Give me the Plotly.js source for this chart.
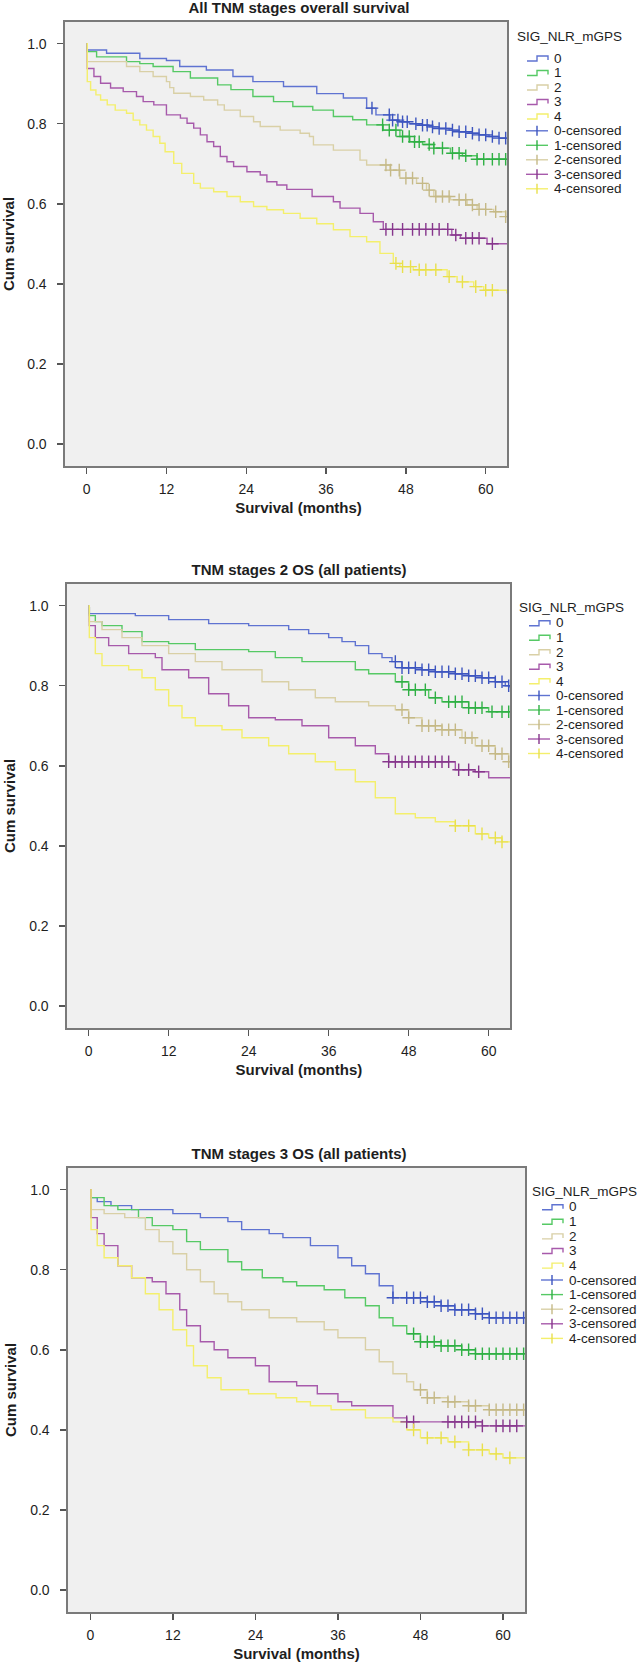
<!DOCTYPE html>
<html><head><meta charset="utf-8">
<script src="https://cdn.plot.ly/plotly-3.0.1.min.js"></script>
<style>
body{margin:0;background:#fff;width:642px;height:1673px;position:relative;overflow:hidden}
.p{position:absolute;left:0;width:642px}
</style></head><body>
<div id="p1" class="p" style="top:0px;height:540px"></div>
<div id="p2" class="p" style="top:562px;height:540px"></div>
<div id="p3" class="p" style="top:1146px;height:527px"></div>
<script>
// ---------- labels ----------
const groupNames = ['0','1','2','3','4'];
const censoredNames = ['0-censored','1-censored','2-censored','3-censored','4-censored'];
const legendTitle = 'SIG_NLR_mGPS';
const panelTitles = ['All TNM stages overall survival','TNM stages 2 OS (all patients)','TNM stages 3 OS (all patients)'];
const xTitle = 'Survival (months)';
const yTitle = 'Cum survival';
const xTickVals = [0,12,24,36,48,60];
const yTickVals = [0,0.2,0.4,0.6,0.8,1.0];

// ---------- Panel 1: All TNM stages ----------
const p1_t0 = [0,0.1,3,8,12,14,18,22,25,29.6,34.6,38.6,42.1,43.5,45.6,47,48.5,50,51.5,53,54.5,56,57.5,59,60.5,62,63.2];
const p1_s0 = [1.0,0.984,0.976,0.963,0.958,0.943,0.934,0.918,0.905,0.893,0.875,0.864,0.839,0.822,0.809,0.805,0.800,0.796,0.792,0.788,0.784,0.780,0.776,0.772,0.768,0.764,0.762];
const p1_c0 = [42.9,45.5,46,46.8,47.5,48.2,49.5,50.5,51.2,52,53,54,55,56,57,58,59,60,61,62,63];
const p1_t1 = [0,0.1,1.5,6,8,10,13,15.6,19.7,21.7,25,28.1,31,34,37.1,40,42.1,44.6,47.1,48.6,50.5,52.2,54.7,56.5,58.7,63.2];
const p1_s1 = [1.0,0.98,0.967,0.955,0.950,0.943,0.93,0.914,0.897,0.885,0.868,0.855,0.843,0.834,0.818,0.81,0.797,0.784,0.768,0.755,0.748,0.739,0.726,0.72,0.711,0.711];
const p1_c1 = [44.5,45.5,46.5,47.5,48.5,49.3,50,51.5,52.2,53.5,55,56,57,58.7,59.7,61,62,63];
const p1_t2 = [0,0.1,6,8,10,12,12.5,13.1,15.6,17.6,19.7,20.7,23.1,25.1,26.1,29.1,32.1,33.5,34.1,37.1,41.1,42.1,45.6,47.1,49.6,51.1,52.2,54.7,57.2,58.7,61.2,63,63.2];
const p1_s2 = [1.0,0.955,0.943,0.93,0.918,0.905,0.89,0.876,0.868,0.859,0.847,0.834,0.818,0.805,0.793,0.784,0.776,0.768,0.747,0.734,0.709,0.697,0.684,0.664,0.651,0.634,0.618,0.610,0.597,0.586,0.58,0.568,0.568];
const p1_c2 = [45,45.7,47,48,49,50.5,51.5,52.5,53.5,54.5,56,57,58,59,60,61.5,63];
const p1_t3 = [0,0.1,1.1,2.1,3.6,5.5,7.5,8.5,10.1,12,14.1,15.1,16.1,17.1,18.1,19.1,20.1,21.1,22.1,24.1,26.1,27.1,28.6,30.1,33.9,37.1,38.1,41.1,43.1,44.6,54.9,56.2,60.2,63.2];
const p1_s3 = [1.0,0.938,0.918,0.901,0.889,0.880,0.868,0.855,0.847,0.822,0.814,0.801,0.789,0.772,0.755,0.743,0.718,0.705,0.693,0.680,0.672,0.655,0.647,0.636,0.618,0.605,0.589,0.576,0.555,0.536,0.522,0.514,0.50,0.498];
const p1_c3 = [45,46,47.5,49,50,51,52,53,54.3,55.5,57,58,59,61];
const p1_t4 = [0,0.1,0.6,1.4,2.1,3.1,4.3,6.0,7.0,8.0,9.0,10,11,11.8,13.1,14.3,16.1,17.1,19.1,21.1,23.1,25.1,27.1,29.6,32.1,34.6,37.1,39.6,42.1,44.1,46.1,47.1,49.1,54.2,55.7,58.2,59.7,63.2];
const p1_s4 = [1.0,0.905,0.884,0.872,0.859,0.847,0.834,0.826,0.809,0.797,0.784,0.768,0.751,0.730,0.701,0.676,0.651,0.639,0.630,0.618,0.605,0.593,0.585,0.576,0.564,0.550,0.535,0.518,0.505,0.476,0.451,0.443,0.435,0.418,0.405,0.393,0.384,0.376];
const p1_c4 = [46.5,47.5,48.7,50,51,52.5,54.5,56.5,58.5,60,61];

// ---------- Panel 2: TNM stage 2 ----------
const p2_t0 = [0,0.1,7,12,18,24,30,33,36,38,40,42,44,45.5,47,50,52,55,57,59,61,62.5,63.2];
const p2_s0 = [1,0.98,0.975,0.965,0.955,0.95,0.94,0.93,0.92,0.91,0.90,0.88,0.87,0.86,0.845,0.84,0.835,0.83,0.825,0.82,0.81,0.80,0.795];
const p2_c0 = [46,47,48,49,50,51,52,53,54,55,56,57,58,59,60,61,62,63];
const p2_t1 = [0,0.1,1,2,5,8,12,16,24,28,32,40,42,46,48,51,53,57,60,63.2];
const p2_s1 = [1,0.975,0.96,0.95,0.935,0.91,0.905,0.89,0.885,0.87,0.86,0.84,0.83,0.81,0.79,0.77,0.76,0.745,0.735,0.735];
const p2_c1 = [47,48,49,50.5,52,54,55,56,57,58,59,60.5,62,63];
const p2_t2 = [0,0.1,2,5,8,12,16,20,26,30,34,37,42,46,48,50,53,56,58,61,63,63.2];
const p2_s2 = [1,0.96,0.94,0.92,0.9,0.88,0.86,0.84,0.81,0.79,0.77,0.76,0.75,0.74,0.72,0.70,0.69,0.67,0.65,0.63,0.61,0.61];
const p2_c2 = [47,48,50,51,52,53,54,55,56.5,57.5,59,60,61,62,63];
const p2_t3 = [0,0.1,1,3,6,10,11,15,18,21,24,28,32,36,40,43,45,55,58,60,63.2];
const p2_s3 = [1,0.95,0.92,0.9,0.88,0.87,0.84,0.82,0.78,0.75,0.72,0.715,0.70,0.67,0.65,0.63,0.61,0.59,0.585,0.57,0.57];
const p2_c3 = [45,46,47,48,49,50,51,52,53,54,55.5,57,58.5];
const p2_t4 = [0,0.1,1,2,6,8,10,12,14,16,20,23,27,30,34,37,40,43,46,49,52,55,58,60,62,63.2];
const p2_s4 = [1,0.92,0.88,0.85,0.84,0.82,0.79,0.75,0.72,0.70,0.69,0.67,0.65,0.63,0.61,0.59,0.56,0.52,0.48,0.47,0.46,0.45,0.43,0.42,0.41,0.41];
const p2_c4 = [55,57,59,61,62];

// ---------- Panel 3: TNM stage 3 ----------
const p3_t0 = [0,0.1,1,3,6,12,16,20,22,26,28,32,36,38,40,42,44,49,51,53,56,58,63.2];
const p3_s0 = [1,0.98,0.97,0.96,0.95,0.94,0.93,0.92,0.90,0.89,0.88,0.86,0.83,0.81,0.79,0.76,0.73,0.72,0.71,0.70,0.69,0.68,0.68];
const p3_c0 = [44,46,47,48,49,50,51,52,53,54,55,56,57,58,59,60,61,62,63];
const p3_t1 = [0,0.1,2,4,7,9,12,14,16,20,22,25,28,30,34,37,40,42,44,46,48,51,54,56,63.2];
const p3_s1 = [1,0.98,0.96,0.95,0.93,0.91,0.90,0.87,0.85,0.82,0.80,0.78,0.77,0.76,0.75,0.73,0.71,0.68,0.66,0.64,0.62,0.61,0.60,0.59,0.59];
const p3_c1 = [47,48,49,50,51,52,53,54,55,56,57,58,59,60,61,62,63];
const p3_t2 = [0,0.1,2,5,8,10,12,14,16,18,20,22,26,30,34,36,40,42,44,46,47,49,52,55,58,63.2];
const p3_s2 = [1,0.95,0.94,0.93,0.90,0.87,0.84,0.80,0.77,0.74,0.72,0.70,0.68,0.67,0.65,0.63,0.60,0.57,0.54,0.52,0.50,0.48,0.47,0.46,0.45,0.45];
const p3_c2 = [48,49,50,52,53,55,56,58,59,60,61,62,63];
const p3_t3 = [0,0.1,1,2,4,6,9,11,13,14,16,18,20,24,26,30,33,36,38,44,46,57,63.2];
const p3_s3 = [1,0.93,0.89,0.86,0.81,0.78,0.77,0.74,0.70,0.66,0.62,0.60,0.58,0.56,0.52,0.51,0.49,0.47,0.46,0.43,0.42,0.41,0.41];
const p3_c3 = [46,47,52,53,54,55,56,57,59,60,61,62];
const p3_t4 = [0,0.1,1,2,4,6,8,10,12,14,15,17,19,23,27,30,32,35,40,44,46,48,52,55,58,60,63.2];
const p3_s4 = [1,0.90,0.86,0.83,0.81,0.78,0.74,0.70,0.65,0.61,0.56,0.53,0.50,0.49,0.48,0.47,0.46,0.45,0.43,0.42,0.40,0.38,0.37,0.35,0.34,0.33,0.33];
const p3_c4 = [47,49,51,53,55,57,59,61];

// ---------- style ----------
const lineColors = ['#5f73d1','#56c965','#d9d0a6','#a75aab','#f4ef6c'];
const cenColors  = ['#3d55bf','#2fb044','#c5b987','#86368c','#e9e04c'];
const FONT = 'Liberation Sans, Arial, Helvetica, sans-serif';
const TXT = '#1e1e1e';

function survAt(t, ts, ss){
  let v = ss[0];
  for (let i=0;i<ts.length;i++){ if (ts[i] <= t) v = ss[i]; else break; }
  return v;
}

const panels = [
  {id:'p1', title:panelTitles[0], H:540, l:65, r:135, t:22, plotH:444, yr:[-0.055,1.054], xpad:6,
   T:[p1_t0,p1_t1,p1_t2,p1_t3,p1_t4], S:[p1_s0,p1_s1,p1_s2,p1_s3,p1_s4], C:[p1_c0,p1_c1,p1_c2,p1_c3,p1_c4],
   legTitleY:36, legItemY:58.3, legDy:14.5, legX:515},
  {id:'p2', title:panelTitles[1], H:540, l:67, r:132, t:22, plotH:444, yr:[-0.055,1.054], xpad:5,
   T:[p2_t0,p2_t1,p2_t2,p2_t3,p2_t4], S:[p2_s0,p2_s1,p2_s2,p2_s3,p2_s4], C:[p2_c0,p2_c1,p2_c2,p2_c3,p2_c4],
   legTitleY:45, legItemY:61, legDy:14.5, legX:517},
  {id:'p3', title:panelTitles[2], H:527, l:68, r:117, t:22, plotH:444, yr:[-0.055,1.054], xpad:0,
   T:[p3_t0,p3_t1,p3_t2,p3_t3,p3_t4], S:[p3_s0,p3_s1,p3_s2,p3_s3,p3_s4], C:[p3_c0,p3_c1,p3_c2,p3_c3,p3_c4],
   legTitleY:45, legItemY:61, legDy:14.6, legX:530}
];

panels.forEach(P => {
  const W = 642;
  const pw = W - P.l - P.r;
  const ph = P.plotH;
  const b = P.H - P.t - ph;
  const px = v => (v - P.l) / pw;        // pixel -> paper x
  const py = v => 1 - (v - P.t) / ph;    // pixel -> paper y

  const traces = [];
  for (let g=0; g<5; g++){
    traces.push({type:'scatter', mode:'lines', x:P.T[g], y:P.S[g], line:{shape:'hv', color:lineColors[g], width:1.4},
      name:groupNames[g], showlegend:false, hoverinfo:'skip'});
  }
  for (let g=0; g<5; g++){
    traces.push({type:'scatter', mode:'markers', x:P.C[g], y:P.C[g].map(t=>survAt(t,P.T[g],P.S[g])),
      marker:{symbol:'cross-thin', size:9, line:{width:1.4, color:cenColors[g]}},
      name:censoredNames[g], showlegend:false, hoverinfo:'skip'});
  }

  // custom legend (compact spacing like the reference)
  const shapes = [], ann = [];
  ann.push({xref:'paper', yref:'paper', x:px(P.legX), y:py(P.legTitleY), xanchor:'left', yanchor:'middle',
    text:legendTitle, showarrow:false, font:{family:FONT, size:13.5, color:TXT}});
  const x0 = P.legX + 12, xm = P.legX + 22, x1 = P.legX + 33, xt = P.legX + 37;
  for (let i=0;i<10;i++){
    const y = P.legItemY + i*P.legDy;
    const g = i % 5;
    if (i < 5){
      shapes.push({type:'path', xref:'paper', yref:'paper',
        path:`M ${px(x0)},${py(y+2.7)} L ${px(xm)},${py(y+2.7)} L ${px(xm)},${py(y-2.3)} L ${px(x1)},${py(y-2.3)} L ${px(x1)},${py(y+1.7)}`,
        line:{color:lineColors[g], width:1.4}});
      ann.push({xref:'paper', yref:'paper', x:px(xt), y:py(y), xanchor:'left', yanchor:'middle',
        text:groupNames[g], showarrow:false, font:{family:FONT, size:13.5, color:TXT}});
    } else {
      shapes.push({type:'line', xref:'paper', yref:'paper', x0:px(x0-1), x1:px(x1), y0:py(y), y1:py(y),
        line:{color:lineColors[g], width:1.4}});
      shapes.push({type:'line', xref:'paper', yref:'paper', x0:px(xm), x1:px(xm), y0:py(y-5), y1:py(y+5),
        line:{color:cenColors[g], width:1.4}});
      ann.push({xref:'paper', yref:'paper', x:px(xt), y:py(y), xanchor:'left', yanchor:'middle',
        text:censoredNames[g], showarrow:false, font:{family:FONT, size:13.5, color:TXT}});
    }
  }

  const layout = {
    width:W, height:P.H,
    margin:{l:P.l, r:P.r, t:P.t, b:b, pad:0},
    paper_bgcolor:'#ffffff', plot_bgcolor:'#f0f0f0',
    font:{family:FONT, color:TXT, size:14},
    showlegend:false,
    title:{text:'<b>'+P.title+'</b>', font:{family:FONT, size:15, color:TXT},
      xref:'paper', x:px(299), xanchor:'center', yref:'container', y:1-7.5/P.H, yanchor:'middle'},
    xaxis:{range:[-3.25,63.2], tickvals:xTickVals, ticktext:xTickVals.map(String),
      showline:true, mirror:true, linecolor:'#7a7a7a', linewidth:1.6,
      ticks:'outside', ticklen:6, tickwidth:1.5, tickcolor:'#555', showgrid:false, zeroline:false,
      ticklabelstandoff:4, tickfont:{family:FONT, size:14, color:TXT},
      title:{text:'&nbsp;'.repeat(P.xpad)+'<b>'+xTitle+'</b>', font:{family:FONT, size:15, color:TXT}, standoff:6}},
    yaxis:{range:P.yr, tickvals:yTickVals, tickformat:'.1f',
      showline:true, mirror:true, linecolor:'#7a7a7a', linewidth:1.6,
      ticks:'outside', ticklen:6, tickwidth:1.5, tickcolor:'#555', showgrid:false, zeroline:false,
      ticklabelstandoff:8, tickfont:{family:FONT, size:14, color:TXT},
      title:{text:'<b>'+yTitle+'</b>', font:{family:FONT, size:15, color:TXT}, standoff:10}},
    shapes:shapes, annotations:ann
  };
  Plotly.newPlot(P.id, traces, layout, {staticPlot:true, displayModeBar:false});
});
</script>
</body></html>
